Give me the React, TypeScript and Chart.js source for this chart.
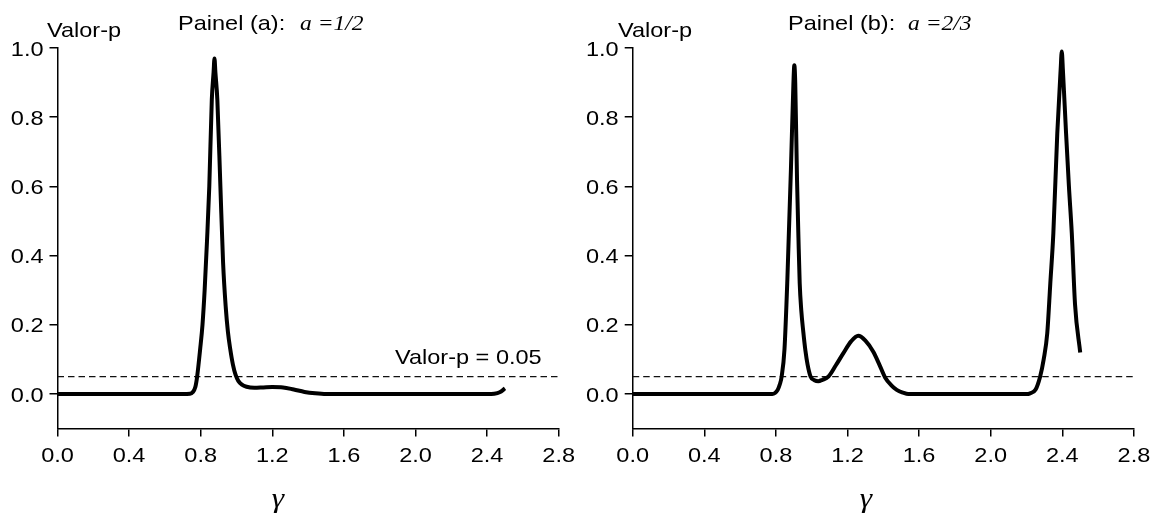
import React, { useEffect, useRef } from "react";
import { Chart, registerables } from "chart.js";
Chart.register(...registerables);

// ---------- data ----------
const gammaA = [0, 0.2, 0.4, 0.6, 0.7, 0.74, 0.755, 0.77, 0.78, 0.797, 0.81, 0.822, 0.835, 0.848, 0.862, 0.872, 0.877, 0.882, 0.893, 0.91, 0.925, 0.94, 0.952, 0.965, 0.98, 0.995, 1.01, 1.03, 1.056, 1.1, 1.15, 1.2, 1.26, 1.32, 1.38, 1.44, 1.5, 1.8, 2.1, 2.4, 2.44, 2.47, 2.5];
const pValueA = [0, 0, 0, 0, 0, 0.001, 0.005, 0.02, 0.05, 0.13, 0.2, 0.3, 0.44, 0.6, 0.85, 0.93, 0.97, 0.93, 0.85, 0.6, 0.38, 0.25, 0.18, 0.13, 0.085, 0.055, 0.038, 0.027, 0.021, 0.018, 0.019, 0.02, 0.019, 0.013, 0.006, 0.002, 0, 0, 0, 0, 0.001, 0.005, 0.016];

const gammaB = [0, 0.2, 0.4, 0.6, 0.78, 0.795, 0.81, 0.822, 0.832, 0.848, 0.864, 0.884, 0.898, 0.903, 0.908, 0.918, 0.926, 0.933, 0.942, 0.953, 0.965, 0.977, 0.994, 1.015, 1.037, 1.06, 1.093, 1.135, 1.177, 1.22, 1.26, 1.3, 1.344, 1.378, 1.41, 1.445, 1.475, 1.51, 1.54, 1.8, 2.0, 2.2, 2.22, 2.25, 2.276, 2.296, 2.316, 2.333, 2.35, 2.372, 2.391, 2.397, 2.403, 2.421, 2.437, 2.453, 2.471, 2.5];
const pValueB = [0, 0, 0, 0, 0, 0.003, 0.012, 0.028, 0.05, 0.13, 0.33, 0.65, 0.9, 0.95, 0.9, 0.62, 0.45, 0.32, 0.24, 0.18, 0.125, 0.085, 0.05, 0.04, 0.037, 0.041, 0.05, 0.083, 0.118, 0.152, 0.168, 0.154, 0.122, 0.085, 0.048, 0.025, 0.012, 0.004, 0, 0, 0, 0, 0.002, 0.012, 0.05, 0.1, 0.176, 0.32, 0.465, 0.754, 0.94, 0.99, 0.94, 0.754, 0.6, 0.465, 0.26, 0.12];

const threshold = 0.05;
const thresholdLabel = "Valor-p = 0.05";

const xTickValues = [0, 0.4, 0.8, 1.2, 1.6, 2.0, 2.4, 2.8];
const xTickLabels = ["0.0", "0.4", "0.8", "1.2", "1.6", "2.0", "2.4", "2.8"];
const yTickValues = [0, 0.2, 0.4, 0.6, 0.8, 1.0];
const yTickLabels = ["0.0", "0.2", "0.4", "0.6", "0.8", "1.0"];

const yAxisTitle = "Valor-p";
const xAxisTitle = "γ";
const panelTitles = ["Painel (a):", "Painel (b):"];
const panelParams = ["a =1/2", "a =2/3"];

// ---------- layout / style ----------
const W = 1156;
const H = 514;
const CW = 578;
const STRETCH = 1.12;
const SANS = '21px "Liberation Sans", Arial, sans-serif';
const SERIF_IT = 'italic 21px "Liberation Serif", "Times New Roman", serif';
const GAMMA_FONT = 'italic 28px "Liberation Serif", "Times New Roman", serif';

function drawStretched(ctx: CanvasRenderingContext2D, text: string, x: number, y: number, font: string, align: "left" | "right" | "center") {
  ctx.save();
  ctx.font = font;
  ctx.textAlign = "left";
  ctx.textBaseline = "alphabetic";
  const w = ctx.measureText(text).width * STRETCH;
  const left = align === "left" ? x : align === "right" ? x - w : x - w / 2;
  ctx.translate(left, y);
  ctx.scale(STRETCH, 1);
  ctx.fillStyle = "#000";
  ctx.fillText(text, 0, 0);
  ctx.restore();
}

const textPlugin = {
  id: "panelText",
  afterDraw(chart: any) {
    const o = chart.options.plugins.panelText;
    const ctx = chart.ctx as CanvasRenderingContext2D;
    const xs = chart.scales.x;
    const ys = chart.scales.y;
    xTickValues.forEach((v, i) => {
      drawStretched(ctx, xTickLabels[i], xs.getPixelForValue(v), xs.top + 33, SANS, "center");
    });
    yTickValues.forEach((v, i) => {
      drawStretched(ctx, yTickLabels[i], ys.right - 14, ys.getPixelForValue(v) + 7.5, SANS, "right");
    });
    drawStretched(ctx, yAxisTitle, o.yTitleX, 37, SANS, "left");
    drawStretched(ctx, o.title, o.titleX, 30, SANS, "left");
    drawStretched(ctx, o.param, o.paramX, 30, SERIF_IT, "left");
    drawStretched(ctx, xAxisTitle, o.gammaX, 507, GAMMA_FONT, "center");
    if (o.showThreshold) {
      drawStretched(ctx, thresholdLabel, o.thresholdX, 364, SANS, "left");
    }
  },
};

type PanelCfg = {
  left: number;
  gamma: number[];
  pvalue: number[];
  padding: { left: number; right: number; top: number; bottom: number };
  title: string;
  param: string;
  titleX: number;
  paramX: number;
  yTitleX: number;
  gammaX: number;
  showThreshold: boolean;
  thresholdX: number;
};

function Panel({ cfg }: { cfg: PanelCfg }) {
  const ref = useRef<HTMLCanvasElement>(null);
  useEffect(() => {
    const canvas = ref.current!;
    const curve = cfg.gamma.map((g, i) => ({ x: g, y: cfg.pvalue[i] }));
    const chart = new Chart(canvas, {
      type: "line",
      data: {
        datasets: [
          {
            data: curve,
            borderColor: "#000",
            borderWidth: 4,
            pointRadius: 0,
            cubicInterpolationMode: "monotone",
            borderJoinStyle: "round",
            borderCapStyle: "butt",
            fill: false,
            clip: false as any,
          },
          {
            data: [
              { x: 0, y: threshold },
              { x: 2.8, y: threshold },
            ],
            borderColor: "#111",
            borderWidth: 1.2,
            borderDash: [6.5, 4],
            pointRadius: 0,
            fill: false,
          },
        ],
      },
      options: {
        animation: false,
        responsive: false,
        devicePixelRatio: 1,
        events: [],
        layout: { padding: cfg.padding, autoPadding: false },
        plugins: {
          legend: { display: false },
          tooltip: { enabled: false },
          title: { display: false },
          panelText: cfg as any,
        } as any,
        scales: {
          x: {
            type: "linear",
            min: 0,
            max: 2.8,
            afterBuildTicks: (s: any) => {
              s.ticks = xTickValues.map((v) => ({ value: v }));
            },
            afterFit: (s: any) => {
              s.height = 0;
            },
            ticks: { display: false },
            grid: { drawOnChartArea: false, drawTicks: true, tickLength: 8, color: "#000", lineWidth: 1.5 },
            border: { display: true, color: "#000", width: 1.5 },
          },
          y: {
            type: "linear",
            min: -0.1,
            max: 1.0,
            afterBuildTicks: (s: any) => {
              s.ticks = yTickValues.map((v) => ({ value: v }));
            },
            afterFit: (s: any) => {
              s.width = 0;
            },
            ticks: { display: false },
            grid: { drawOnChartArea: false, drawTicks: true, tickLength: 8, color: "#000", lineWidth: 1.5 },
            border: { display: true, color: "#000", width: 1.5 },
          },
        },
      },
      plugins: [textPlugin as any],
    });
    return () => chart.destroy();
  }, []);
  return (
    <canvas
      ref={ref}
      width={CW}
      height={H}
      style={{ position: "absolute", left: cfg.left, top: 0, width: CW, height: H, display: "block" }}
    />
  );
}

const panelA: PanelCfg = {
  left: 0,
  gamma: gammaA,
  pvalue: pValueA,
  padding: { left: 57.5, right: CW - 558.7, top: 48, bottom: H - 428.6 },
  title: panelTitles[0],
  param: panelParams[0],
  titleX: 178,
  paramX: 300,
  yTitleX: 47,
  gammaX: 278,
  showThreshold: true,
  thresholdX: 395,
};

const panelB: PanelCfg = {
  left: CW,
  gamma: gammaB,
  pvalue: pValueB,
  padding: { left: 54.7, right: CW - 555.9, top: 48, bottom: H - 428.6 },
  title: panelTitles[1],
  param: panelParams[1],
  titleX: 788 - CW,
  paramX: 908 - CW,
  yTitleX: 618 - CW,
  gammaX: 866 - CW,
  showThreshold: false,
  thresholdX: 0,
};

export default function App() {
  return (
    <div style={{ position: "fixed", left: 0, top: 0, width: W, height: H, background: "#fff", overflow: "hidden" }}>
      <Panel cfg={panelA} />
      <Panel cfg={panelB} />
    </div>
  );
}
